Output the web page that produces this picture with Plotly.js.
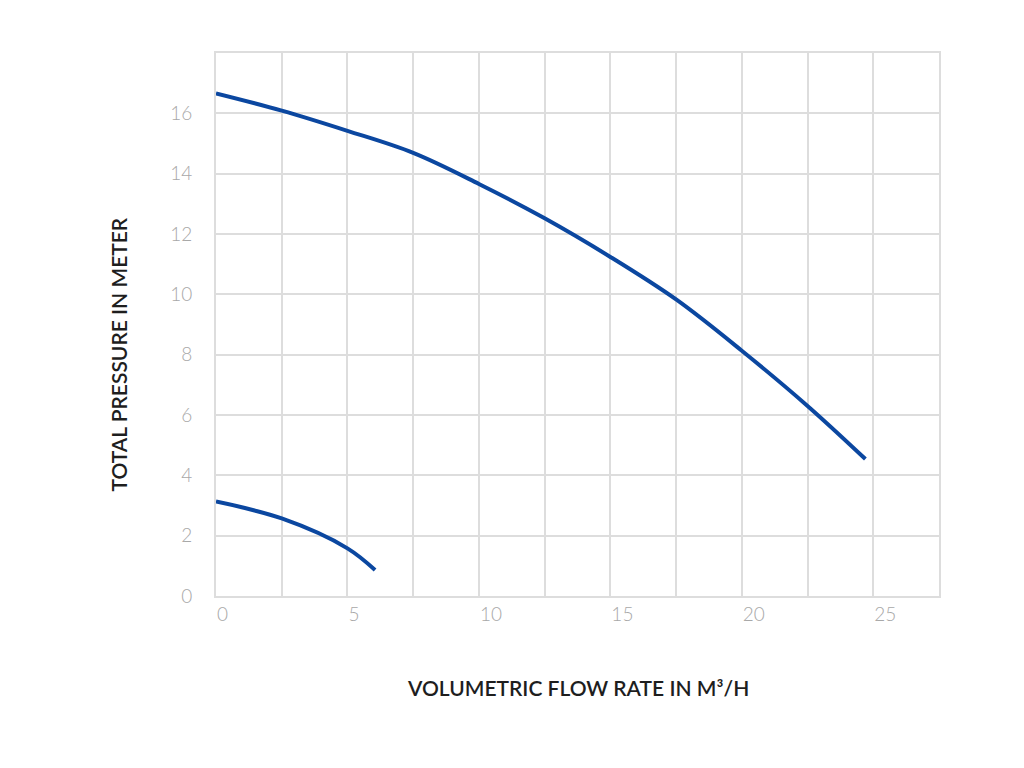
<!DOCTYPE html>
<html>
<head>
<meta charset="utf-8">
<script src="https://cdn.plot.ly/plotly-3.0.1.min.js"></script>
<style>html,body{margin:0;padding:0;background:#fff;}#chart{width:1024px;height:768px;}</style>
</head>
<body>
<div id="chart"></div>
<script>
const upperFlow = [0, 2.5, 5, 7.5, 10, 12.5, 15, 17.5, 20, 22.5, 24.7];
const upperPressure = [16.66, 16.09, 15.42, 14.69, 13.66, 12.52, 11.24, 9.83, 8.13, 6.3, 4.54];
const lowerFlow = [0, 2.5, 5, 6.05];
const lowerPressure = [3.13, 2.57, 1.58, 0.86];
const xTickVals = [0, 5, 10, 15, 20, 25];
const yTickVals = [0, 2, 4, 6, 8, 10, 12, 14, 16];
const xTitle = 'VOLUMETRIC FLOW RATE IN M³/H';
const yTitle = 'TOTAL PRESSURE IN METER';

const lineColor = '#0b47a0';
const gridColor = '#dddddd';

const traces = [
  {x: upperFlow, y: upperPressure, mode: 'lines', line: {color: lineColor, width: 4, shape: 'spline', smoothing: 1}, hoverinfo: 'skip'},
  {x: lowerFlow, y: lowerPressure, mode: 'lines', line: {color: lineColor, width: 4, shape: 'spline', smoothing: 1}, hoverinfo: 'skip'}
];

const tickFont = {family: 'Lato, "Open Sans", sans-serif', size: 19, color: '#a8a8a8', weight: 300};
const titleFont = {family: 'Lato, "Open Sans", sans-serif', size: 21, color: '#1e1e1e', weight: 600};

const layout = {
  width: 1024, height: 768,
  margin: {l: 216, r: 85, t: 53, b: 172},
  paper_bgcolor: '#ffffff', plot_bgcolor: '#ffffff',
  showlegend: false,
  xaxis: {
    range: [0, 27.5], tickvals: xTickVals, ticks: '',
    showgrid: true, gridcolor: gridColor, gridwidth: 2,
    minor: {dtick: 2.5, showgrid: true, gridcolor: gridColor, gridwidth: 2},
    showline: true, mirror: true, linecolor: gridColor, linewidth: 2,
    zeroline: false, tickfont: tickFont, ticklabelposition: 'outside right',
    ticklabelstandoff: 0, fixedrange: true
  },
  yaxis: {
    range: [0, 18], tickvals: yTickVals, ticks: '',
    showgrid: true, gridcolor: gridColor, gridwidth: 2,
    showline: true, mirror: true, linecolor: gridColor, linewidth: 2,
    zeroline: false, tickfont: tickFont, ticklabelstandoff: 18, fixedrange: true
  },
  annotations: [
    {text: yTitle, xref: 'paper', yref: 'paper', x: -0.1355, y: 0.445, xanchor: 'center', yanchor: 'middle', textangle: -90, showarrow: false, font: titleFont},
    {text: xTitle, xref: 'paper', yref: 'paper', x: 0.5, y: -0.169, xanchor: 'center', yanchor: 'middle', showarrow: false, font: titleFont}
  ]
};

Plotly.newPlot('chart', traces, layout, {displayModeBar: false, staticPlot: true});
</script>
</body>
</html>
